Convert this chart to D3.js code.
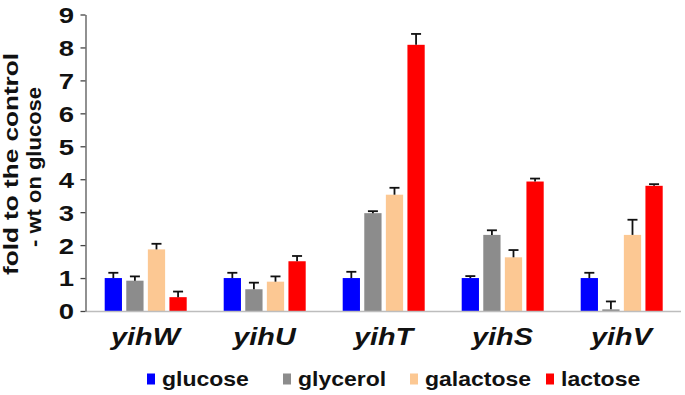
<!DOCTYPE html>
<html><head><meta charset="utf-8">
<script src="https://cdn.jsdelivr.net/npm/d3@7"></script>
<style>body{margin:0;background:#fff}svg{display:block}text{font-family:"Liberation Sans",Arial,sans-serif}</style>
</head><body><svg id="c" width="685" height="395"></svg>
<script>
const categories = ["yihW","yihU","yihT","yihS","yihV"];
const seriesNames = ["glucose","glycerol","galactose","lactose"];
const glucose   = [1.00, 1.00, 1.00, 1.00, 1.00];
const glycerol  = [0.92, 0.66, 2.97, 2.31, 0.05];
const galactose = [1.87, 0.89, 3.53, 1.63, 2.31];
const lactose   = [0.42, 1.51, 8.08, 3.93, 3.80];
const glucoseErr   = [0.16, 0.16, 0.19, 0.06, 0.16];
const glycerolErr  = [0.13, 0.20, 0.06, 0.14, 0.24];
const galactoseErr = [0.17, 0.16, 0.21, 0.22, 0.46];
const lactoseErr   = [0.17, 0.16, 0.33, 0.09, 0.05];
const yTicks = [0,1,2,3,4,5,6,7,8,9];
const colors = ["#0000ff","#8c8c8c","#fcc893","#ff0000"];

const values = [glucose, glycerol, galactose, lactose];
const errs = [glucoseErr, glycerolErr, galactoseErr, lactoseErr];

const svg = d3.select("#c");
const y = d3.scaleLinear().domain([0,9]).range([311,14.5]);
const x0 = d3.scaleBand().domain(categories).range([86,681]).padding(0);
const x1 = d3.scaleBand().domain(seriesNames).range([18.7,100.7]).paddingInner(0.2).paddingOuter(0);
const color = d3.scaleOrdinal().domain(seriesNames).range(colors);

const rows = [];
categories.forEach((c,i)=>seriesNames.forEach((s,j)=>rows.push({c,s,v:values[j][i],e:errs[j][i]})));

svg.append("g").selectAll("rect").data(rows).join("rect")
  .attr("x",d=>x0(d.c)+x1(d.s)).attr("width",x1.bandwidth())
  .attr("y",d=>y(d.v)).attr("height",d=>y(0)-y(d.v)).attr("fill",d=>color(d.s));

const eg = svg.append("g").attr("stroke","#111").attr("stroke-width",1.8);
rows.forEach(d=>{
  const cx = x0(d.c)+x1(d.s)+x1.bandwidth()/2;
  eg.append("line").attr("x1",cx).attr("x2",cx).attr("y1",y(d.v)).attr("y2",y(d.v+d.e));
  eg.append("line").attr("x1",cx-5).attr("x2",cx+5).attr("y1",y(d.v+d.e)).attr("y2",y(d.v+d.e));
});

// x axis line
svg.append("line").attr("x1",86).attr("x2",681).attr("y1",y(0)+0.5).attr("y2",y(0)+0.5)
  .attr("stroke","#bdbdbd").attr("stroke-width",1.5);

// y axis
const ya = svg.append("g").attr("transform","translate(85.5,0)")
  .call(d3.axisLeft(y).tickValues(yTicks).tickSize(5).tickSizeOuter(0).tickPadding(4.2));
ya.select(".domain").attr("stroke","#555").attr("stroke-width",1.3);
ya.selectAll(".tick line").attr("stroke","#444").attr("stroke-width",1.3);
ya.selectAll(".tick text").attr("font-size",22).attr("font-weight","bold").attr("fill","#111")
  .attr("font-family","Liberation Sans, Arial, sans-serif").attr("dy","0.36em")
  .attr("transform","scale(1.25,1)");

// category labels
svg.append("g").selectAll("text").data(categories).join("text")
  .attr("transform",d=>`translate(${x0(d)+x0.bandwidth()/2},345) scale(1.2,1)`)
  .attr("text-anchor","middle").attr("font-size",24).attr("font-weight","bold")
  .attr("font-style","italic").attr("fill","#111").text(d=>d);

// y title
const tg = svg.append("g").attr("transform","translate(0,164) rotate(-90)");
tg.append("text").attr("x",0).attr("y",18).attr("text-anchor","middle")
  .attr("font-size",21).attr("font-weight","bold").attr("fill","#111")
  .attr("textLength",222).attr("lengthAdjust","spacingAndGlyphs").text("fold to the control");
tg.append("text").attr("x",-3).attr("y",41).attr("text-anchor","middle")
  .attr("font-size",21).attr("font-weight","bold").attr("fill","#111")
  .attr("textLength",160).attr("lengthAdjust","spacingAndGlyphs").text("- wt on glucose");

// legend
const legX = [147, 283, 410, 546];
const lg = svg.append("g").selectAll("g").data(seriesNames).join("g")
  .attr("transform",(d,i)=>`translate(${legX[i]},0)`);
lg.append("rect").attr("x",0).attr("y",373.5).attr("width",8).attr("height",11).attr("fill",d=>color(d));
lg.append("text").attr("transform","translate(15,386) scale(1.15,1)").attr("font-size",20).attr("font-weight","bold")
  .attr("fill","#111").text(d=>d);
</script></body></html>
